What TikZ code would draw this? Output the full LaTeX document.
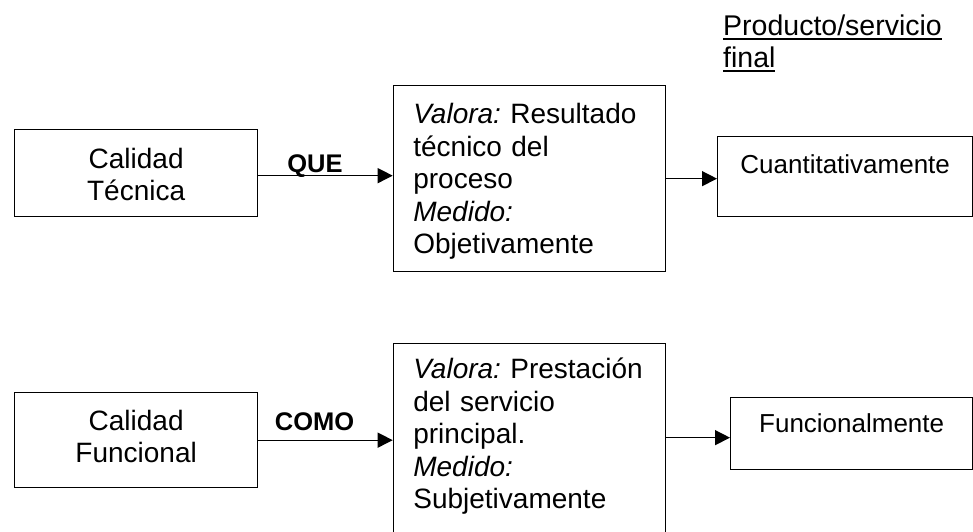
\documentclass[tikz,border=0pt]{standalone}
\usepackage{fontspec}
\setmainfont{Liberation Sans}
\usetikzlibrary{arrows.meta,calc}
\newcommand\bodyfont{\fontsize{28}{32.5}\selectfont\frenchspacing}
\newcommand\smallbodyfont{\fontsize{26}{30}\selectfont}
\newcommand\labelfont{\fontsize{25.5}{29}\selectfont\bfseries}
\newcommand\ulx[1]{\setbox0\hbox{#1}\rlap{\rule[-5pt]{\wd0}{2.2pt}}\box0}
\tikzset{
  box/.style={draw, line width=1.3pt, inner sep=0pt, anchor=north west},
  conn/.style={line width=1.3pt, -{Triangle[length=15pt,width=15pt]}},
  lbl/.style={anchor=base, inner sep=0pt, font=\labelfont}
}
\begin{document}
\begin{tikzpicture}[x=1pt,y=-1pt]
\useasboundingbox (0,0) rectangle (973,531);

% header
\node (prod) [anchor=base west, inner sep=0pt, align=left, font=\fontsize{28.5}{32}\selectfont]
  at (723,67) {\ulx{Producto/servicio}\\\ulx{final}};

% top row
\node (b1) [box, font=\bodyfont, align=center, minimum width=243pt,
  text height=71pt, text depth=16pt] at (14,129) {Calidad\\Técnica};
\node (b2) [box, font=\bodyfont, align=left, text width=232pt, inner xsep=20pt,
  text height=38pt, text depth=148pt] at (392.7,85)
  {\mbox{{\itshape Valora:} Resultado}\\técnico del\\proceso\\{\itshape Medido:}\\Objetivamente};
\node (b3) [box, font=\smallbodyfont, align=center, minimum width=255pt,
  text height=37pt, text depth=43pt] at (717,136) {Cuantitativamente};

% bottom row
\node (b4) [box, font=\bodyfont, align=center, minimum width=243pt,
  text height=70pt, text depth=25pt] at (14,392) {Calidad\\Funcional};
\begin{scope}
\clip (0,0) rectangle (973,531);
\node (b5) [box, font=\bodyfont, align=left, text width=232pt, inner xsep=20pt,
  text height=35pt, text depth=167pt] at (392.7,343)
  {\mbox{{\itshape Valora:} Prestación}\\del servicio\\principal.\\{\itshape Medido:}\\Subjetivamente};
\end{scope}
\node (b6) [box, font=\smallbodyfont, align=center, minimum width=242pt,
  text height=35pt, text depth=37pt] at (730,397) {Funcionalmente};

% connectors
\coordinate (a1s) at ([yshift=-2.5pt]b1.east);
\draw[conn] (a1s) -- (b2.west |- a1s);
\draw[conn] (b2.east) -- (b3.west |- b2.east);
\draw[conn] (b4.east) -- (b5.west |- b4.east);
\coordinate (a4e) at ([yshift=-4pt]b6.west);
\draw[conn] (b5.east |- a4e) -- (a4e);

% connector labels
\node (que) [lbl] at (315,172) {QUE};
\node (como) [lbl] at (314.5,430) {COMO};
\end{tikzpicture}
\end{document}
